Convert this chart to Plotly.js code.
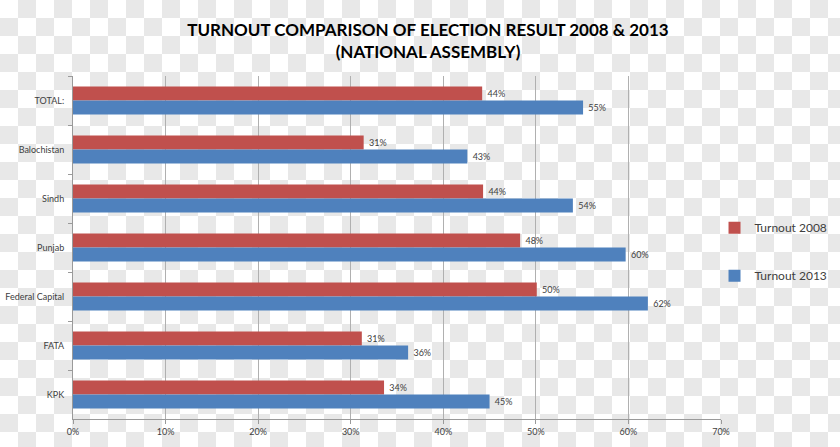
<!DOCTYPE html>
<html>
<head>
<meta charset="utf-8">
<script src="https://cdn.plot.ly/plotly-3.0.1.min.js"></script>
<style>
  html, body { margin: 0; padding: 0; }
  body {
    width: 840px; height: 447px; overflow: hidden;
    background-color: #ffffff;
    background-image: conic-gradient(#e8e8e8 0 25%, transparent 0 50%, #e8e8e8 0 75%, transparent 0);
    background-size: 36px 36px;
    background-position: 0 0;
  }
  #chart { width: 840px; height: 447px; }
</style>
</head>
<body>
<div id="chart"></div>
<script>
// Categories (top to bottom)
const regions = ["TOTAL:", "Balochistan", "Sindh", "Punjab", "Federal Capital", "FATA", "KPK"];
// Turnout percentages
const turnout2008 = [44.2, 31.4, 44.3, 48.3, 50.1, 31.2, 33.6];
const turnout2013 = [55.1, 42.6, 54.0, 59.7, 62.1, 36.2, 45.0];
const seriesNames = ["Turnout 2008", "Turnout 2013"];
const xTicks = [0, 10, 20, 30, 40, 50, 60, 70];

const labelFont = { family: "Lato, 'Open Sans', sans-serif", size: 9, color: "#404040" };

const traces = [
  {
    type: "bar", orientation: "h", name: seriesNames[0],
    y: regions, x: turnout2008,
    marker: { color: "#C0504D" },
    text: turnout2008.map(v => "\u00a0" + Math.round(v) + "%"),
    textposition: "outside", textfont: labelFont, cliponaxis: false,
    legendgroup: "a", hoverinfo: "x+y"
  },
  {
    type: "bar", orientation: "h", name: seriesNames[1],
    y: regions, x: turnout2013,
    marker: { color: "#4F81BD" },
    text: turnout2013.map(v => "\u00a0" + Math.round(v) + "%"),
    textposition: "outside", textfont: labelFont, cliponaxis: false,
    legendgroup: "b", hoverinfo: "x+y"
  }
];

const layout = {
  width: 840, height: 447,
  paper_bgcolor: "rgba(0,0,0,0)",
  plot_bgcolor: "rgba(0,0,0,0)",
  margin: { l: 73, r: 119, t: 75.5, b: 27.5, autoexpand: false },
  font: { family: "Lato, 'Open Sans', sans-serif", color: "#404040" },
  title: {
    text: "<b>TURNOUT COMPARISON OF ELECTION RESULT 2008 &amp; 2013<br>(NATIONAL ASSEMBLY)</b>",
    font: { family: "Lato, 'Open Sans', sans-serif", size: 17, color: "#000000" },
    x: 0.5095, xanchor: "center", y: 0.92, yanchor: "middle"
  },
  barmode: "group",
  bargap: 0.43,
  bargroupgap: 0,
  xaxis: {
    range: [0, 70],
    tickvals: xTicks,
    ticktext: xTicks.map(v => v + "%"),
    showgrid: true, gridcolor: "#b0b0b0", gridwidth: 1,
    zeroline: false,
    showline: true, linecolor: "#9a9a9a", linewidth: 1,
    ticks: "outside", ticklen: 4, tickcolor: "#9a9a9a",
    tickfont: { size: 9, color: "#404040" },
    fixedrange: true
  },
  yaxis: {
    autorange: "reversed",
    type: "category",
    showline: true, linecolor: "#9a9a9a", linewidth: 1,
    ticks: "outside", ticklen: 4, tickcolor: "#9a9a9a",
    tickson: "boundaries",
    tickfont: { size: 9, color: "#404040" },
    ticklabelstandoff: 6,
    showgrid: false,
    fixedrange: true
  },
  showlegend: true,
  legend: {
    x: 0.99, xanchor: "left",
    y: 0.60, yanchor: "top",
    bgcolor: "rgba(0,0,0,0)",
    font: { size: 12, color: "#404040" },
    tracegroupgap: 29,
    itemwidth: 30
  }
};

Plotly.newPlot("chart", traces, layout, { displayModeBar: false, staticPlot: true });
</script>
</body>
</html>
